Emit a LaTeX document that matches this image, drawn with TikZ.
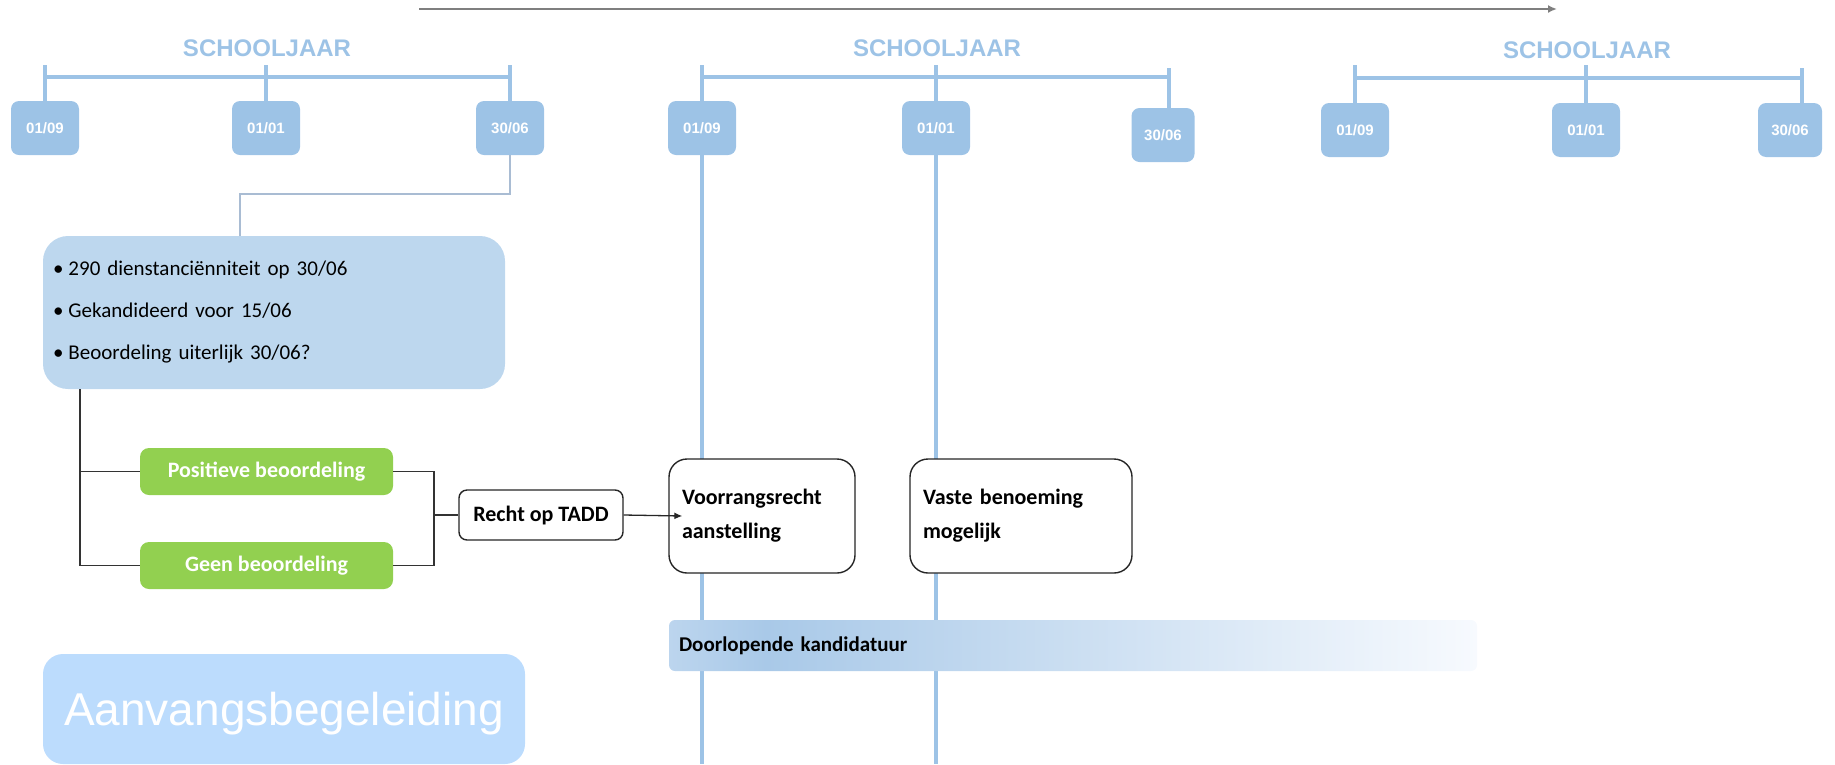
\documentclass[tikz,border=0pt]{standalone}
\usepackage{fontspec}
\setmainfont{Carlito}
\newfontfamily\arialfont{Liberation Sans}
\usetikzlibrary{arrows.meta,positioning}

\definecolor{datumblauw}{HTML}{9DC3E6}
\definecolor{vakblauw}{HTML}{BDD7EE}
\definecolor{hemelblauw}{HTML}{BCDCFD}
\definecolor{knikgrijs}{HTML}{A9BCD3}
\definecolor{groen}{HTML}{92D050}
\definecolor{pijlgrijs}{HTML}{7F7F7F}
\definecolor{kandA}{HTML}{BCD5EE}
\definecolor{kandB}{HTML}{A9C9E8}
\definecolor{kandC}{HTML}{F7FAFE}
\pgfdeclarehorizontalshading{kandshade}{100bp}{color(0bp)=(kandA); color(25bp)=(kandA); color(31bp)=(kandB); color(75bp)=(kandC); color(100bp)=(kandC)}

\tikzset{
  datum/.style={fill=datumblauw, rounded corners=8pt, minimum width=68pt, minimum height=54pt, inner sep=0pt, text=white, font=\arialfont\bfseries\fontsize{15}{18}\selectfont},
  jaar/.style={text=datumblauw, font=\arialfont\bfseries\fontsize{24}{28}\selectfont},
  tijdlijn/.style={draw=datumblauw, line width=4pt},
  groenvak/.style={fill=groen, rounded corners=9pt, minimum width=253pt, minimum height=47pt, inner sep=0pt, text=white, font=\bfseries\fontsize{22}{26}\selectfont},
  witvak/.style={draw=black!85, line width=1.4pt, fill=white, inner sep=0pt, font=\bfseries\fontsize{22}{34}\selectfont},
  haak/.style={draw=black!80, line width=1.6pt}
}

\begin{document}
\begin{tikzpicture}[x=1pt,y=-1pt]
\useasboundingbox (0,0) rectangle (1835,764);

\coordinate (tijd0) at (419,9);
\coordinate (tijd1) at (1557,9);
\draw[pijlgrijs, line width=2pt, -{Latex[length=9pt,width=8pt]}] (tijd0) -- (tijd1);

\node[jaar] (jaar1) at (267,48) {SCHOOLJAAR};
\node[jaar] (jaar2) at (937,48) {SCHOOLJAAR};
\node[jaar] (jaar3) at (1587,50) {SCHOOLJAAR};

\node[datum] (d1a) at (45,128) {01/09};
\node[datum] (d1b) at (266,128) {01/01};
\node[datum] (d1c) at (510,128) {30/06};
\node[datum] (d2a) at (702,128) {01/09};
\node[datum] (d2b) at (936,128) {01/01};
\node[datum, minimum width=63pt] (d2c) at (1163,135) {30/06};
\node[datum] (d3a) at (1355,130) {01/09};
\node[datum] (d3b) at (1586,130) {01/01};
\node[datum, minimum width=64pt] (d3c) at (1790,130) {30/06};

\draw[tijdlijn] (45,77) -- (511,77);
\draw[tijdlijn] (702,77) -- (1169,77);
\draw[tijdlijn] (1355,78) -- (1802,78);
\foreach \d in {d1a,d1b,d1c,d2a,d2b,d3a,d3b}
  \draw[tijdlijn] (\d.north) -- (\d.north |- 0,65);
\draw[tijdlijn] (d2c.north -| 1169,0) -- (1169,68);
\draw[tijdlijn] (d3c.north -| 1802,0) -- (1802,68);

\draw[tijdlijn] (d2a.south) -- (d2a.south |- 0,764);
\draw[tijdlijn] (d2b.south) -- (d2b.south |- 0,764);

\node[fill=vakblauw, rounded corners=25pt, minimum width=462pt, minimum height=153pt, inner sep=0pt,
  text width=442pt, align=left, font=\fontsize{21}{42}\selectfont] (info) at (274,312.5)
  {\textbullet\hspace{5pt}290 dienstanciënniteit op 30/06\\
   \textbullet\hspace{5pt}Gekandideerd voor 15/06\\
   \textbullet\hspace{5pt}Beoordeling uiterlijk 30/06?};
\coordinate (knik) at (240,194);
\draw[knikgrijs, line width=2pt] (d1c.south) |- (knik) -- (knik |- info.north);

\node[groenvak] (pos) at (266.5,471.5) {Positieve beoordeling};
\node[groenvak] (geen) at (266.5,565.5) {Geen beoordeling};
\node[witvak, rounded corners=8pt, minimum width=164pt, minimum height=50pt] (tadd) at (541,515) {Recht op TADD};

\coordinate (stam) at (80,0);
\coordinate (rug) at (434,0);
\draw[haak] (info.south -| stam) |- (geen.west);
\draw[haak] (pos.west) -- (pos.west -| stam);
\draw[haak] (pos.east) -| (rug |- tadd.west) |- (geen.east);
\draw[haak] (rug |- tadd.west) -- (tadd.west);

\node[witvak, rounded corners=18pt, minimum width=186pt, minimum height=114pt, text width=160pt, align=left] (voor) at (762,516) {Voorrangsrecht\\aanstelling};
\node[witvak, rounded corners=18pt, minimum width=222pt, minimum height=114pt, text width=196pt, align=left] (vast) at (1021,516) {Vaste benoeming\\mogelijk};
\draw[black!85, line width=1.3pt, -{Latex[length=8pt,width=7pt]}] (tadd.east) -- ([xshift=14pt]voor.west);

\node[shading=kandshade, rounded corners=6pt, minimum width=808pt, minimum height=51pt, inner sep=0pt,
  text width=788pt, align=left, font=\bfseries\fontsize{21}{24}\selectfont] (doorl) at (1073,645.5) {Doorlopende kandidatuur};

\node[fill=hemelblauw, rounded corners=20pt, minimum width=482pt, minimum height=110pt, inner sep=0pt,
  text depth=0pt, text=white, font=\arialfont\fontsize{46}{52}\selectfont] (aanvang) at (284,709) {Aanvangsbegeleiding};
\end{tikzpicture}
\end{document}
